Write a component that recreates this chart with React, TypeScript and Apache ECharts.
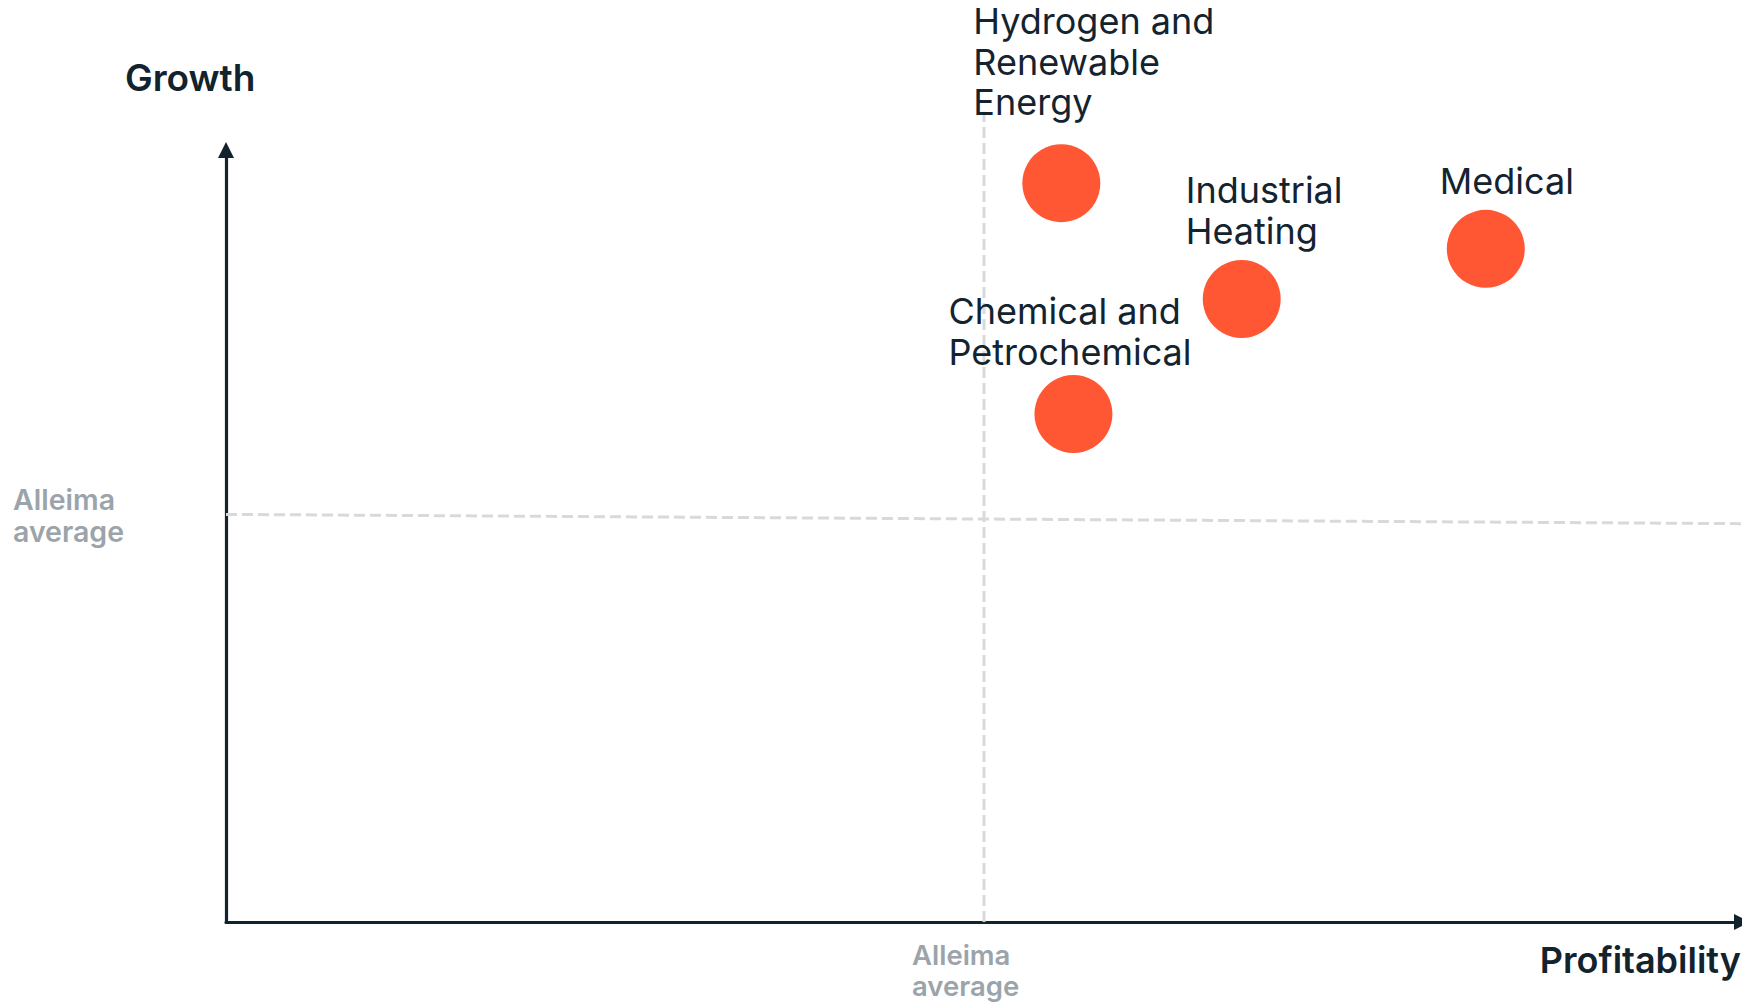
import React, { useEffect, useRef } from "react";
import * as echarts from "echarts";

// ---- data ----
const sectorNames = [
  "Hydrogen and\nRenewable\nEnergy",
  "Industrial\nHeating",
  "Medical",
  "Chemical and\nPetrochemical",
];
const profitability = [55.1, 67.0, 83.1, 55.9];
const growth = [95.7, 80.7, 87.2, 65.8];
const averageProfitability = 50;
const averageGrowth = [52.8, 51.6]; // left end, right end of the reference line
const axisMin = 0;
const axisMax = 100;
const averageLineTop = 105;
const axisTitles = ["Growth", "Profitability"];
const averageLabel = "Alleima\naverage";

// ---- styling ----
const FONT = 'Inter, "Noto Sans", sans-serif';
const NAVY = "#12232E";
const ORANGE = "#FF5734";
const GREY_TEXT = "#9BA4AA";
const GREY_LINE = "#D6DADD";
const labelOffsets = [
  [-49, -143],
  [-17, -90],
  [-7, -49],
  [-86, -84],
];

export default function App() {
  const ref = useRef<HTMLDivElement>(null);

  useEffect(() => {
    document.body.style.margin = "0";
    if (!ref.current) return;
    const chart = echarts.init(ref.current, undefined, { renderer: "svg" });

    const hiddenAxis = {
      type: "value" as const,
      min: axisMin,
      max: axisMax,
      axisLabel: { show: false },
      axisTick: { show: false },
      splitLine: { show: false },
      axisLine: {
        show: true,
        symbol: ["none", "triangle"],
        symbolSize: [16, 16],
        lineStyle: { color: NAVY, width: 3.2 },
      },
    };

    const dashStyle = { color: GREY_LINE, width: 3, type: [11, 5] as number[] };

    chart.setOption({
      animation: false,
      backgroundColor: "#ffffff",
      grid: { left: 226, right: 0, top: 150, bottom: 80, containLabel: false },
      xAxis: hiddenAxis,
      yAxis: hiddenAxis,
      graphic: [
        {
          type: "text",
          left: 125,
          top: 59,
          style: {
            text: axisTitles[0],
            font: `600 37px ${FONT}`,
            fill: NAVY,
          },
        },
        {
          type: "text",
          right: 1,
          top: 942,
          style: {
            text: axisTitles[1],
            font: `600 36px ${FONT}`,
            fill: NAVY,
          },
        },
        {
          type: "text",
          left: 13,
          top: 483,
          style: {
            text: averageLabel,
            font: `600 28.5px ${FONT}`,
            lineHeight: 32,
            fill: GREY_TEXT,
          },
        },
        {
          type: "text",
          left: 912,
          top: 939,
          style: {
            text: averageLabel,
            font: `600 27.5px ${FONT}`,
            lineHeight: 31,
            fill: GREY_TEXT,
          },
        },
      ],
      series: [
        {
          type: "line",
          data: [
            [averageProfitability, axisMin],
            [averageProfitability, averageLineTop],
          ],
          symbol: "none",
          clip: false,
          lineStyle: dashStyle,
          silent: true,
          z: 1,
        },
        {
          type: "line",
          data: [
            [axisMin, averageGrowth[0]],
            [axisMax, averageGrowth[1]],
          ],
          symbol: "none",
          clip: false,
          lineStyle: dashStyle,
          silent: true,
          z: 1,
        },
        {
          type: "scatter",
          symbol: "circle",
          symbolSize: 78,
          clip: false,
          z: 3,
          itemStyle: { color: ORANGE, opacity: 1 },
          data: sectorNames.map((name, i) => ({
            name,
            value: [profitability[i], growth[i]],
            label: {
              show: true,
              position: labelOffsets[i],
              align: "left",
              verticalAlign: "top",
              formatter: "{b}",
              color: "#13232F",
              fontFamily: FONT,
              fontSize: 36,
              fontWeight: 400,
              lineHeight: 40.5,
            },
          })),
        },
      ],
    });

    return () => chart.dispose();
  }, []);

  return (
    <div
      ref={ref}
      style={{ position: "fixed", left: 0, top: 0, width: 1742, height: 1002, background: "#fff" }}
    />
  );
}
